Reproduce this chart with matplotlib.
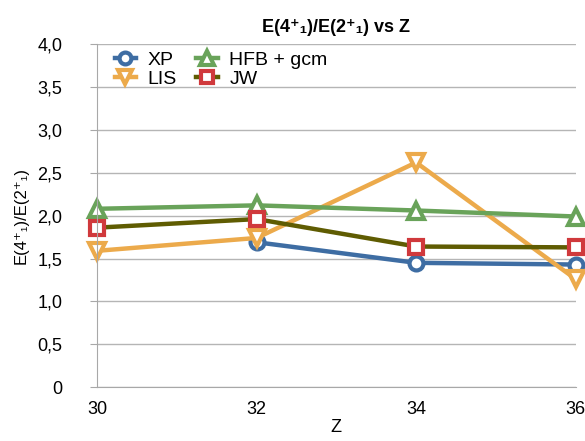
import matplotlib
matplotlib.use("Agg")
import matplotlib.pyplot as plt
from matplotlib.ticker import FuncFormatter

plt.rcParams['font.family'] = ['Liberation Sans', 'DejaVu Sans']

# data
z_xp = [32, 34, 36]
xp = [1.69, 1.45, 1.43]
z_all = [30, 32, 34, 36]
lis = [1.59, 1.74, 2.62, 1.26]
hfb = [2.08, 2.12, 2.06, 1.99]
jw = [1.86, 1.96, 1.64, 1.63]
y_ticks = [0, 0.5, 1.0, 1.5, 2.0, 2.5, 3.0, 3.5, 4.0]
x_ticks = [30, 32, 34, 36]

fig = plt.figure(figsize=(5.85, 4.41), dpi=100)
ax = fig.add_axes([0.166, 0.122, 0.818, 0.778])

mk = dict(markerfacecolor="white", markeredgewidth=3, linewidth=3.2, clip_on=False)
ax.plot(z_xp, xp, color="#3e6da3", marker="o", markersize=10, label="XP", **mk)
ax.plot(z_all, lis, color="#ecaa4b", marker="v", markersize=12, label="LIS", **mk)
ax.plot(z_all, hfb, color="#69a35a", marker="^", markersize=12, label="HFB + gcm", **mk)
ax.plot(z_all, jw, color="#5f5c02", marker="s", markersize=10,
        markeredgecolor="#d0393c", label="JW", **mk)

ax.set_xlim(30, 36)
ax.set_ylim(0, 4)
ax.set_xticks(x_ticks)
ax.set_yticks(y_ticks)
ax.yaxis.set_major_formatter(FuncFormatter(lambda v, p: "0" if v == 0 else f"{v:.1f}".replace(".", ",")))
ax.grid(axis="y", color="#b5b5b5", linewidth=1)
ax.set_axisbelow(True)
for s in ["top", "right"]:
    ax.spines[s].set_visible(False)
for s in ["left", "bottom"]:
    ax.spines[s].set_color("#a8a8a8")
ax.tick_params(axis="y", length=5, color="#a8a8a8", labelsize=13, pad=20)
ax.tick_params(axis="x", length=0, labelsize=13, pad=10)

ax.set_xlabel("Z", fontsize=13, labelpad=1)
ax.set_ylabel("E(4⁺₁)/E(2⁺₁)", fontsize=12, labelpad=6)
ax.set_title("E(4⁺₁)/E(2⁺₁) vs Z", fontsize=13, fontweight="bold", pad=9)

ax.legend(loc="upper left", ncol=2, frameon=False, fontsize=14,
          bbox_to_anchor=(0.0, 1.03), handlelength=1.1, columnspacing=1.0,
          labelspacing=0.05, handletextpad=0.6, markerscale=0.85)

fig.savefig("out.png", dpi=100)
